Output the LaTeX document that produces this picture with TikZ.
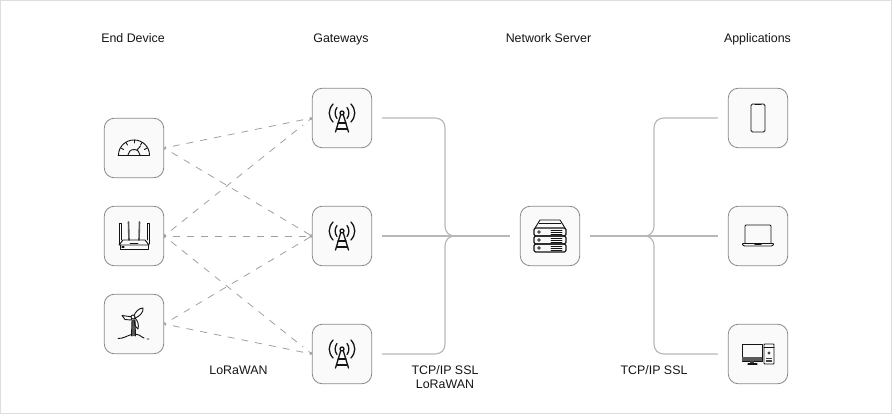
\documentclass[tikz,border=0pt]{standalone}
\usepackage{fontspec}
\setmainfont{Liberation Sans}
\usetikzlibrary{arrows.meta}
\definecolor{boxedge}{HTML}{8A8A8A}
\definecolor{boxfill}{HTML}{FAFAFA}
\definecolor{busline}{HTML}{B8B8B8}
\definecolor{dashline}{HTML}{A0A0A0}
\definecolor{ink}{HTML}{141414}
\tikzset{
  x=1pt,y=-1pt,
  tile/.style={draw=boxedge,fill=boxfill,line width=0.8pt,rounded corners=10pt,minimum width=59.5pt,minimum height=59.5pt,inner sep=0pt},
  lbl/.style={font=\fontsize{12.4}{14}\selectfont,text=ink,align=center,inner sep=0pt,anchor=base},
  bus/.style={draw=busline,line width=1.2pt},
  link/.style={draw=dashline,line width=0.8pt,dash pattern=on 1pt off 7pt on 7pt off 7pt on 7pt off 7pt on 7pt off 7pt on 7pt off 7pt on 7pt off 7pt on 7pt off 7pt on 7pt off 7pt on 7pt off 7pt on 7pt off 7pt on 7pt off 7pt on 7pt off 7pt on 7pt off 7pt,{Straight Barb[length=1.2pt,width=2.6pt,line width=0.7pt]}-{Straight Barb[length=1.2pt,width=2.6pt,line width=0.7pt]}},
  icon/.style={draw=ink,line width=0.9pt,line join=round,line cap=round},
}
\begin{document}
\begin{tikzpicture}
\useasboundingbox (0,0) rectangle (892,414);
\draw[draw=black!13,line width=1pt] (0.5,0.5) rectangle (891.5,413.5);
% tiles
\node[tile] (d1) at (134,148) {};
\node[tile] (d2) at (134,236) {};
\node[tile] (d3) at (134,324) {};
\node[tile] (g1) at (342,118) {};
\node[tile] (g2) at (342,236) {};
\node[tile] (g3) at (342,354) {};
\node[tile] (s) at (550,236) {};
\node[tile] (a1) at (758,118) {};
\node[tile] (a2) at (758,236) {};
\node[tile] (a3) at (758,354) {};
% titles
\node[lbl] (t1) at (133,42.5) {End Device};
\node[lbl] (t2) at (341,42.5) {Gateways};
\node[lbl] (t3) at (548.5,42.5) {Network Server};
\node[lbl] (t4) at (757.5,42.5) {Applications};
\node[lbl] (l1) at (238.5,374) {LoRaWAN};
\node[lbl] (l2a) at (445,374) {TCP/IP SSL};
\node[lbl] (l2b) at (445,388) {LoRaWAN};
\node[lbl] (l3) at (654,374) {TCP/IP SSL};
% dashed links
\foreach \a/\b in {d1/g1,d1/g2,d2/g1,d2/g2,d2/g3,d3/g2,d3/g3}{\draw[link] (\a.east) -- (\b.west);}
% buses
\coordinate (jl) at (455,236);
\coordinate (jr) at (645,236);
\draw[bus,shorten <=10pt] (g1.east) -- (435,118) .. controls (441,118) and (445,122) .. (445,128) -- (445,226) .. controls (445,232) and (449,236) .. (jl);
\draw[bus,shorten <=10pt] (g3.east) -- (435,354) .. controls (441,354) and (445,350) .. (445,344) -- (445,246) .. controls (445,240) and (449,236) .. (jl);
\draw[bus,shorten <=10pt,shorten >=10pt] (g2.east) -- (s.west);
\draw[bus,shorten <=10pt,shorten >=10pt] (s.east) -- (a2.west);
\draw[bus,shorten <=10pt] (a1.west) -- (664,118) .. controls (658,118) and (654,122) .. (654,128) -- (654,226) .. controls (654,232) and (650,236) .. (jr);
\draw[bus,shorten <=10pt] (a3.west) -- (664,354) .. controls (658,354) and (654,350) .. (654,344) -- (654,246) .. controls (654,240) and (650,236) .. (jr);
% gauge
\begin{scope}[shift={(d1.center)},icon]
 \draw (-16,7) -- (15.5,7);
 \draw (-15.5,7) arc (180:360:15.5 and 15);
 \draw (-6,7) arc (180:360:6 and 5.5);
 \draw (0,-8) -- (0,-5);
 \draw (-8,-5.5) -- (-6.5,-3);
 \draw (8,-5.5) -- (6.5,-3);
 \draw (-13,0) -- (-10.5,1.5);
 \draw (13,0) -- (10.5,1.5);
 \draw (3,2) -- (6.5,-2);
\end{scope}
% router
\begin{scope}[shift={(d2.center)},icon]
 \draw (-15,8) -- (-15,-13) -- (-13,-13) -- (-13,4);
 \draw (15,8) -- (15,-13) -- (13,-13) -- (13,4);
 \draw[line width=1.6pt,draw=ink!70] (-5.5,-14) -- (-5,4);
 \draw[line width=1.6pt,draw=ink!70] (5.5,-14) -- (5,4);
 \draw (-15,9) -- (-11,4) -- (11,4) -- (15,9) -- cycle;
 \draw (-14,9) -- (-14,13.5) -- (14,13.5) -- (14,9);
 \draw (-4,7) -- (4,7);
 \draw[line width=1.2pt] (-12,11) -- (-10,11);
\end{scope}
% turbine
\begin{scope}[shift={(d3.center)},icon]
 \draw (-16,14.5) .. controls (-10,14.5) and (-8,12) .. (-4,11) .. controls (0,9.5) and (5,10) .. (8,13) -- (10,14) (13,15) -- (15,15);
 \fill[ink!70] (-2.5,12) -- (-2,-4) -- (1,-4) -- (1.5,12) -- cycle;
 \draw (-2.5,12) -- (-2,-4) (1,-4) -- (1.5,12);
 \draw (-12,-8.5) -- (-1,-7) -- (-3,-4) -- (-9,-4.5) -- cycle;
 \draw (0,-8) .. controls (1,-12) and (5,-16) .. (9,-16) .. controls (10,-12) and (5,-7) .. (1,-6);
 \draw (1,-6) .. controls (4,-3) and (5,1) .. (4,5) .. controls (1,3) and (0,-1) .. (0,-5);
 \draw[fill=boxfill] (-1,-7) circle (2);
\end{scope}
% gateway towers
\foreach \n in {g1,g2,g3}{
\begin{scope}[shift={(\n.center)},icon,line width=1.3pt]
 \draw (0,-5) circle (2);
 \draw (-1.5,-2.5) -- (-6.5,14);
 \draw (1.5,-2.5) -- (6.5,14);
 \draw (-4,5) -- (4,5);
 \draw (-5.5,11) -- (5.5,11);
 \draw (-5,0.5) .. controls (-7.5,-3) and (-7.5,-7) .. (-5,-10.5);
 \draw (5,0.5) .. controls (7.5,-3) and (7.5,-7) .. (5,-10.5);
 \draw (-9,4) .. controls (-14,-2) and (-14,-8) .. (-9,-14);
 \draw (9,4) .. controls (14,-2) and (14,-8) .. (9,-14);
\end{scope}}
% server
\begin{scope}[shift={(s.center)},icon]
 \draw (-15,-8) -- (-10,-16) -- (10,-16) -- (15,-8);
 \draw (-11,-13) -- (11,-13);
 \foreach \y in {-8,0,8}{
  \draw[rounded corners=1.5pt,line width=1.1pt] (-16,\y) rectangle (16,\y+8);
  \draw[line width=0.7pt] (-11,\y+4) circle (1.4);
  \foreach \k in {2,4,6}{\draw[line width=0.8pt] (1,\y+\k) -- (12,\y+\k);}
 }
\end{scope}
% phone
\begin{scope}[shift={(a1.center)},icon]
 \draw[rounded corners=1.5pt] (-7,-14) rectangle (7,14);
 \draw[line width=1.2pt] (-3,-13.5) -- (3,-13.5);
\end{scope}
% laptop
\begin{scope}[shift={(a2.center)},icon]
 \draw[rounded corners=1pt] (-13,7) -- (-13,-11) -- (13,-11) -- (13,7);
 \draw[rounded corners=1pt] (-16,7.5) -- (16,7.5) -- (14.5,10) -- (-14.5,10) -- cycle;
 \draw[line width=1.2pt] (-3,8.5) -- (3,8.5);
\end{scope}
% desktop
\begin{scope}[shift={(a3.center)},icon]
 \draw (-16,-10) rectangle (4,7);
 \fill[ink!70] (-16,3) rectangle (4,7);
 \fill[ink!80] (-8,7) rectangle (-4,10);
 \draw[line width=1.3pt] (-10,10) -- (-1,10);
 \draw[rounded corners=0.8pt] (6,-10) rectangle (16,10);
 \draw (6,-7) -- (16,-7);
 \fill[ink!80] (11,-1) circle (1.7);
 \fill[ink!80] (8,3.5) rectangle (14,5);
 \fill[ink!80] (8,6) rectangle (14,7.5);
\end{scope}
\end{tikzpicture}
\end{document}
